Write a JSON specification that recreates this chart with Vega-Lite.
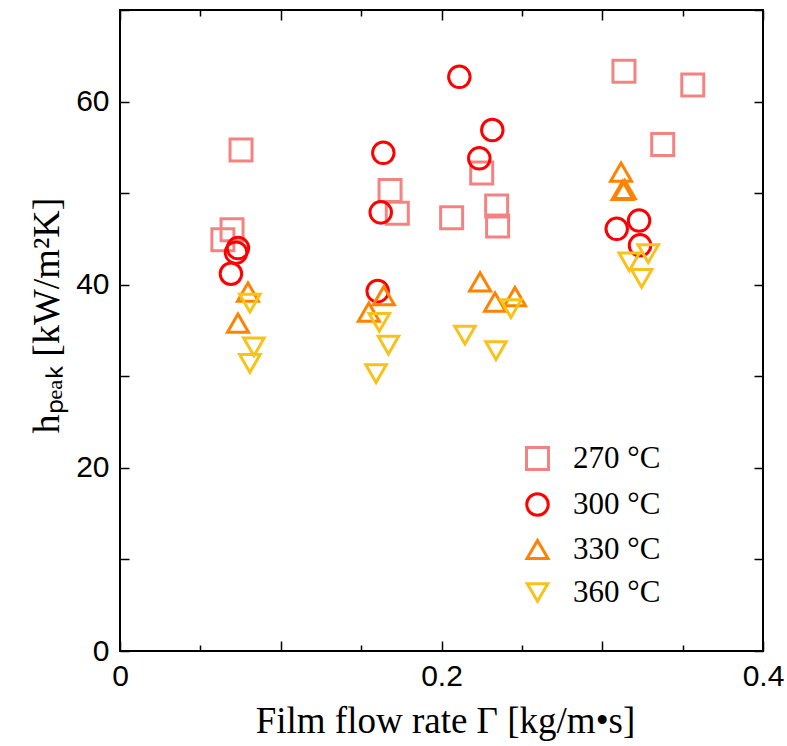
{
  "$schema": "https://vega.github.io/schema/vega-lite/v6.json",
  "autosize": {"type": "none"},
  "padding": {"left": 120, "top": 10, "right": 24, "bottom": 95},
  "width": 643,
  "height": 641,
  "background": "white",
  "config": {
    "view": {"stroke": "black", "strokeWidth": 2},
    "axis": {"domain": false, "grid": false, "tickColor": "black", "tickWidth": 1.5, "labelColor": "black", "titleColor": "black"},
    "legend": {
      "labelFont": "Liberation Serif", "labelFontSize": 31, "labelColor": "black",
      "labelOffset": 20, "rowPadding": 11, "symbolStrokeWidth": 3
    }
  },
  "data": {
    "values": [
      {"G": 0.0753, "h": 54.7, "T": "270 °C"},
      {"G": 0.0697, "h": 46.0, "T": "270 °C"},
      {"G": 0.0640, "h": 44.9, "T": "270 °C"},
      {"G": 0.1680, "h": 50.3, "T": "270 °C"},
      {"G": 0.1725, "h": 47.8, "T": "270 °C"},
      {"G": 0.2063, "h": 47.3, "T": "270 °C"},
      {"G": 0.2250, "h": 52.2, "T": "270 °C"},
      {"G": 0.2343, "h": 48.6, "T": "270 °C"},
      {"G": 0.2349, "h": 46.4, "T": "270 °C"},
      {"G": 0.3135, "h": 63.3, "T": "270 °C"},
      {"G": 0.3563, "h": 61.8, "T": "270 °C"},
      {"G": 0.3376, "h": 55.3, "T": "270 °C"},
      {"G": 0.0734, "h": 44.0, "T": "300 °C"},
      {"G": 0.0722, "h": 43.5, "T": "300 °C"},
      {"G": 0.0690, "h": 41.2, "T": "300 °C"},
      {"G": 0.2111, "h": 62.7, "T": "300 °C"},
      {"G": 0.2316, "h": 56.9, "T": "300 °C"},
      {"G": 0.1638, "h": 54.4, "T": "300 °C"},
      {"G": 0.2235, "h": 53.8, "T": "300 °C"},
      {"G": 0.1622, "h": 47.9, "T": "300 °C"},
      {"G": 0.1603, "h": 39.3, "T": "300 °C"},
      {"G": 0.3090, "h": 46.1, "T": "300 °C"},
      {"G": 0.3229, "h": 47.0, "T": "300 °C"},
      {"G": 0.3235, "h": 44.3, "T": "300 °C"},
      {"G": 0.0796, "h": 39.2, "T": "330 °C"},
      {"G": 0.0734, "h": 35.8, "T": "330 °C"},
      {"G": 0.1641, "h": 38.8, "T": "330 °C"},
      {"G": 0.1548, "h": 37.0, "T": "330 °C"},
      {"G": 0.2240, "h": 40.3, "T": "330 °C"},
      {"G": 0.2333, "h": 38.1, "T": "330 °C"},
      {"G": 0.2457, "h": 38.7, "T": "330 °C"},
      {"G": 0.3117, "h": 52.3, "T": "330 °C"},
      {"G": 0.3127, "h": 50.3, "T": "330 °C"},
      {"G": 0.3140, "h": 50.4, "T": "330 °C"},
      {"G": 0.0808, "h": 38.0, "T": "360 °C"},
      {"G": 0.0833, "h": 33.2, "T": "360 °C"},
      {"G": 0.0808, "h": 31.4, "T": "360 °C"},
      {"G": 0.1613, "h": 35.9, "T": "360 °C"},
      {"G": 0.1670, "h": 33.4, "T": "360 °C"},
      {"G": 0.1593, "h": 30.3, "T": "360 °C"},
      {"G": 0.2146, "h": 34.5, "T": "360 °C"},
      {"G": 0.2339, "h": 32.8, "T": "360 °C"},
      {"G": 0.2432, "h": 37.4, "T": "360 °C"},
      {"G": 0.3168, "h": 42.5, "T": "360 °C"},
      {"G": 0.3286, "h": 43.4, "T": "360 °C"},
      {"G": 0.3245, "h": 40.7, "T": "360 °C"}
    ]
  },
  "layer": [
    {
      "mark": {"type": "point", "filled": false, "strokeWidth": 3, "opacity": 1},
      "encoding": {
        "x": {
          "field": "G", "type": "quantitative",
          "scale": {"domain": [0, 0.4], "nice": false, "zero": false},
          "axis": {
            "orient": "bottom",
            "values": [0, 0.05, 0.1, 0.15, 0.2, 0.25, 0.3, 0.35, 0.4],
            "format": "~g",
            "labelExpr": "indexof(['0', '0.2', '0.4'], datum.label) >= 0 ? datum.label : ''",
            "tickSize": {"condition": {"test": "round(datum.value * 100) % 10 == 0", "value": -10}, "value": -6},
            "labelPadding": 20,
            "labelFont": "Liberation Sans", "labelFontSize": 30,
            "labelFlush": false, "labelOverlap": false,
            "title": "Film flow rate  Γ [kg/m•s]",
            "titleFont": "Liberation Serif", "titleFontSize": 37, "titleFontWeight": "normal",
            "titleX": 325, "titleY": 81, "titleBaseline": "alphabetic", "titleAnchor": "middle"
          }
        },
        "y": {
          "field": "h", "type": "quantitative",
          "scale": {"domain": [0, 70], "nice": false},
          "axis": {
            "orient": "left",
            "values": [0, 10, 20, 30, 40, 50, 60, 70],
            "labelExpr": "datum.value % 20 == 0 ? datum.label : ''",
            "tickSize": -9,
            "labelPadding": 20,
            "labelFont": "Liberation Sans", "labelFontSize": 30,
            "labelFlush": false, "labelOverlap": false,
            "title": "hₚₑₐₖ [kW/m²K]",
            "titleFont": "Liberation Serif", "titleFontSize": 38, "titleFontWeight": "normal",
            "titleX": -73, "titleY": 305, "titleBaseline": "middle", "titleAngle": -90, "titleAnchor": "middle"
          }
        },
        "shape": {
          "field": "T", "type": "nominal",
          "scale": {"domain": ["270 °C", "300 °C", "330 °C", "360 °C"], "range": ["square", "circle", "triangle-up", "triangle-down"]},
          "legend": {"title": null, "orient": "none", "legendX": 402, "legendY": 433}
        },
        "color": {
          "field": "T", "type": "nominal",
          "scale": {"domain": ["270 °C", "300 °C", "330 °C", "360 °C"], "range": ["#f58282", "#ff0000", "#ff8200", "#f7c21a"]},
          "legend": {"title": null, "orient": "none", "legendX": 402, "legendY": 433}
        },
        "size": {
          "field": "T", "type": "nominal",
          "scale": {"domain": ["270 °C", "300 °C", "330 °C", "360 °C"], "range": [484, 420, 620, 620]},
          "legend": {"title": null, "orient": "none", "legendX": 402, "legendY": 433}
        }
      }
    },
    {
      "mark": {"type": "point", "opacity": 0},
      "encoding": {
        "x": {
          "field": "G", "type": "quantitative",
          "axis": {
            "orient": "top",
            "values": [0, 0.05, 0.1, 0.15, 0.2, 0.25, 0.3, 0.35, 0.4],
            "labels": false, "title": null,
            "tickSize": {"condition": {"test": "round(datum.value * 100) % 10 == 0", "value": -10}, "value": -6}
          }
        },
        "y": {
          "field": "h", "type": "quantitative",
          "axis": {
            "orient": "right",
            "values": [0, 10, 20, 30, 40, 50, 60, 70],
            "labels": false, "title": null,
            "tickSize": -9
          }
        }
      }
    }
  ],
  "resolve": {"axis": {"x": "independent", "y": "independent"}}
}
